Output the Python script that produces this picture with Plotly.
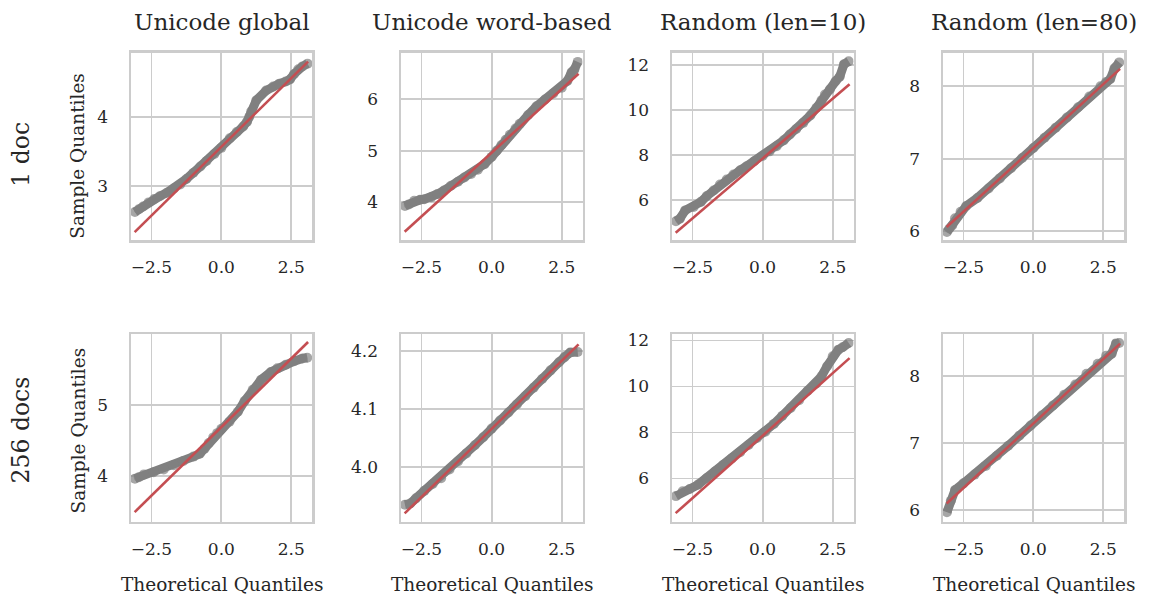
import plotly.graph_objects as go

W, H = 1157, 599

col_titles = ["Unicode global", "Unicode word-based", "Random (len=10)", "Random (len=80)"]
row_titles = ["1 doc", "256 docs"]
x_label = "Theoretical Quantiles"
y_label = "Sample Quantiles"
x_ticks = [-2.5, 0.0, 2.5]
x_tick_text = ["\u22122.5", "0.0", "2.5"]

# ---- row 1: 1 doc ----
x1 = [-3.09, -2.95, -2.8, -2.6, -2.4, -2.2, -1.95, -1.7, -1.47, -1.25, -1.0, -0.75, -0.53, -0.25, 0.0,
      0.3, 0.55, 0.78, 0.92, 1.0, 1.07, 1.25, 1.6, 1.85, 2.07, 2.3, 2.45, 2.6, 2.75, 2.9, 3.08]
y1 = [2.62, 2.66, 2.70, 2.76, 2.81, 2.85, 2.90, 2.96, 3.02, 3.10, 3.19, 3.28, 3.36, 3.46, 3.55,
      3.69, 3.78, 3.86, 3.93, 4.00, 4.08, 4.24, 4.38, 4.44, 4.48, 4.51, 4.54, 4.62, 4.69, 4.73, 4.77]
line1 = [2.33, 4.80]

x2 = [-3.09, -2.95, -2.76, -2.55, -2.4, -2.15, -1.93, -1.7, -1.45, -1.2, -0.97, -0.73, -0.49, -0.25, 0.0,
      0.18, 0.35, 0.5, 0.65, 0.85, 1.0, 1.3, 1.6, 1.9, 2.2, 2.5, 2.7, 2.85, 2.95, 3.07]
y2 = [3.93, 3.96, 4.03, 4.05, 4.06, 4.10, 4.16, 4.23, 4.32, 4.40, 4.48, 4.55, 4.63, 4.74, 4.88,
      5.00, 5.11, 5.21, 5.31, 5.43, 5.52, 5.69, 5.86, 5.99, 6.11, 6.22, 6.35, 6.52, 6.57, 6.72]
line2 = [3.43, 6.49]

x3 = [-3.09, -2.95, -2.76, -2.46, -2.2, -1.99, -1.75, -1.52, -1.28, -1.04, -0.8, -0.57, -0.3, 0.0,
      0.25, 0.5, 0.75, 0.97, 1.2, 1.45, 1.7, 1.92, 2.1, 2.22, 2.4, 2.6, 2.75, 2.9, 3.07]
y3 = [5.06, 5.17, 5.54, 5.69, 5.92, 6.18, 6.43, 6.69, 6.92, 7.14, 7.33, 7.51, 7.73, 7.96,
      8.17, 8.40, 8.66, 8.92, 9.17, 9.44, 9.77, 10.11, 10.45, 10.70, 10.93, 11.29, 11.50, 12.05, 12.18]
line3 = [4.54, 11.16]

x4 = [-3.09, -3.0, -2.9, -2.8, -2.6, -2.4, -2.0, -1.6, -1.2, -0.8, -0.4, 0.0, 0.4, 0.8, 1.2, 1.6,
      2.0, 2.4, 2.6, 2.75, 2.9, 3.07]
y4 = [5.99, 6.04, 6.08, 6.18, 6.27, 6.35, 6.46, 6.59, 6.73, 6.87, 7.01, 7.15, 7.29, 7.43, 7.57, 7.71,
      7.86, 8.00, 8.06, 8.10, 8.25, 8.33]
line4 = [6.06, 8.24]

# ---- row 2: 256 docs ----
x5 = [-3.09, -2.95, -2.77, -2.42, -2.06, -1.71, -1.36, -1.0, -0.77, -0.6, -0.45, -0.29, -0.15, 0.0,
      0.29, 0.59, 0.83, 1.12, 1.42, 1.77, 2.0, 2.3, 2.6, 2.9, 3.07]
y5 = [3.96, 3.98, 4.02, 4.05, 4.09, 4.15, 4.21, 4.27, 4.31, 4.38, 4.46, 4.54, 4.60, 4.66,
      4.76, 4.90, 5.05, 5.21, 5.35, 5.46, 5.51, 5.56, 5.61, 5.65, 5.66]
line5 = [3.49, 5.88]

x6 = [-3.09, -2.9, -2.7, -2.4, -2.1, -1.8, -1.5, -1.2, -0.9, -0.6, -0.3, 0.0, 0.3, 0.6, 0.9, 1.2,
      1.5, 1.8, 2.1, 2.4, 2.6, 2.8, 3.07]
y6 = [3.934, 3.936, 3.945, 3.958, 3.970, 3.980, 3.995, 4.009, 4.023, 4.037, 4.051, 4.066, 4.080,
      4.094, 4.108, 4.122, 4.137, 4.152, 4.167, 4.181, 4.190, 4.198, 4.199]
line6 = [3.919, 4.212]

x7 = [-3.09, -2.85, -2.6, -2.3, -2.0, -1.7, -1.4, -1.1, -0.8, -0.5, -0.2, 0.1, 0.4, 0.7, 1.0, 1.3,
      1.6, 1.9, 2.1, 2.3, 2.5, 2.7, 2.85, 3.07]
y7 = [5.23, 5.44, 5.54, 5.73, 6.01, 6.30, 6.59, 6.87, 7.14, 7.45, 7.76, 8.03, 8.37, 8.72, 9.06, 9.40,
      9.80, 10.12, 10.44, 10.88, 11.31, 11.60, 11.70, 11.89]
line7 = [4.49, 11.23]

x8 = [-3.09, -2.95, -2.8, -2.5, -2.1, -1.7, -1.3, -0.9, -0.5, -0.1, 0.3, 0.7, 1.1, 1.5, 1.9, 2.3,
      2.6, 2.8, 2.95, 3.07]
y8 = [5.97, 6.14, 6.30, 6.40, 6.53, 6.66, 6.81, 6.96, 7.11, 7.26, 7.41, 7.56, 7.72, 7.87, 8.03, 8.18,
      8.30, 8.33, 8.48, 8.49]
line8 = [6.10, 8.48]

line_x = [-3.1, 3.1]

y_ranges = [[2.215, 4.93], [3.27, 6.90], [4.22, 12.57], [5.88, 8.465],
            [3.356, 5.99], [3.9046, 4.2297], [4.12, 12.27], [5.83, 8.62]]
y_ticks = [[3, 4], [4, 5, 6], [6, 8, 10, 12], [6, 7, 8],
           [4, 5], [4.0, 4.1, 4.2], [6, 8, 10, 12], [6, 7, 8]]
y_tick_text = [["3", "4"], ["4", "5", "6"], ["6", "8", "10", "12"], ["6", "7", "8"],
               ["4", "5"], ["4.0", "4.1", "4.2"], ["6", "8", "10", "12"], ["6", "7", "8"]]
x_range = [-3.23, 3.24]

xs = [x1, x2, x3, x4, x5, x6, x7, x8]
ys = [y1, y2, y3, y4, y5, y6, y7, y8]
lines = [line1, line2, line3, line4, line5, line6, line7, line8]

# layout geometry (pixels)
col_px = [(131, 312), (401, 582.5), (672, 853.5), (943, 1124)]
row_px = [(49, 238), (333, 522)]

FONT = "DejaVu Serif"
TXT = "#262626"
GRID = "#cccccc"
GRAY = "#808080"
RED = "#c44e52"

fig = go.Figure()
layout = dict(
    width=W, height=H,
    margin=dict(l=0, r=0, t=0, b=0, pad=0),
    paper_bgcolor="white", plot_bgcolor="white",
    showlegend=False,
    font=dict(family=FONT, color=TXT, size=17),
)

for i in range(8):
    r, c = divmod(i, 4)
    n = i + 1
    xa = "x" if n == 1 else f"x{n}"
    ya = "y" if n == 1 else f"y{n}"
    fig.add_trace(go.Scatter(
        x=xs[i], y=ys[i], mode="lines+markers", xaxis=xa, yaxis=ya,
        line=dict(color=GRAY, width=9),
        marker=dict(color="rgba(128,128,128,0.7)", size=10, line=dict(width=0)),
        hoverinfo="skip"))
    fig.add_trace(go.Scatter(
        x=line_x, y=lines[i], mode="lines", xaxis=xa, yaxis=ya,
        line=dict(color=RED, width=2.6), hoverinfo="skip"))
    x0, x1p = col_px[c]
    y0, y1p = row_px[r]
    axcommon = dict(showline=True, mirror=True, linecolor=GRID, linewidth=2.5,
                    showgrid=True, gridcolor=GRID, gridwidth=1.8, zeroline=False,
                    ticks="", tickfont=dict(family=FONT, size=17, color=TXT))
    layout["xaxis" if n == 1 else f"xaxis{n}"] = dict(
        domain=[x0 / W, x1p / W], range=x_range, anchor=ya,
        tickvals=x_ticks, ticktext=x_tick_text, ticklabelstandoff=10, **axcommon)
    layout["yaxis" if n == 1 else f"yaxis{n}"] = dict(
        domain=[1 - y1p / H, 1 - y0 / H], range=y_ranges[i], anchor=xa,
        tickvals=y_ticks[i], ticktext=y_tick_text[i], ticklabelstandoff=17, **axcommon)

anns = []
for c in range(4):
    cx = (col_px[c][0] + col_px[c][1]) / 2 / W
    anns.append(dict(text=col_titles[c], x=cx, y=1 - 18 / H, xref="paper", yref="paper",
                     showarrow=False, xanchor="center", yanchor="middle",
                     font=dict(family=FONT, size=23, color=TXT)))
    anns.append(dict(text=x_label, x=cx, y=1 - 585 / H, xref="paper", yref="paper",
                     showarrow=False, xanchor="center", yanchor="middle",
                     font=dict(family=FONT, size=18.5, color=TXT)))
ylab_y = [153, 430]
rowlab_y = [152, 430]
for r in range(2):
    anns.append(dict(text=y_label, x=78 / W, y=1 - ylab_y[r] / H, xref="paper", yref="paper",
                     showarrow=False, xanchor="center", yanchor="middle", textangle=-90,
                     font=dict(family=FONT, size=18.5, color=TXT)))
    anns.append(dict(text=row_titles[r], x=21 / W, y=1 - rowlab_y[r] / H, xref="paper", yref="paper",
                     showarrow=False, xanchor="center", yanchor="middle", textangle=-90,
                     font=dict(family=FONT, size=23.5, color=TXT)))
layout["annotations"] = anns

fig.update_layout(**layout)
fig.write_html("out.html",
               config={"displayModeBar": False, "staticPlot": True},
               post_script="document.body.style.margin='0';document.body.style.overflow='hidden';")
